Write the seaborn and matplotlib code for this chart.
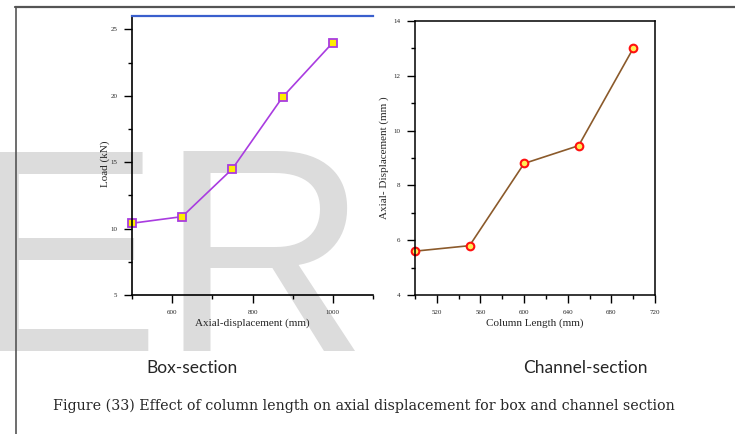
import matplotlib
matplotlib.use("Agg")
import matplotlib.pyplot as plt
from matplotlib.lines import Line2D
from matplotlib.ticker import MultipleLocator
import seaborn as sns
import pandas as pd

# Data
box_length = [500, 625, 750, 875, 1000]
box_load = [10.4, 10.9, 14.5, 19.9, 24.0]
ch_length = [500, 550, 600, 650, 700]
ch_disp = [5.6, 5.8, 8.8, 9.45, 13.0]

box_xticks = [600, 800, 1000]
box_yticks = [5, 10, 15, 20, 25]
ch_xticks = [520, 560, 600, 640, 680, 720]
ch_yticks = [4, 6, 8, 10, 12, 14]

sns.set_style("ticks")
plt.rcParams['font.family'] = ['Liberation Serif', 'DejaVu Serif']

fig = plt.figure(figsize=(7.35, 4.34), dpi=100)
fig.patch.set_facecolor('white')

# watermark
fig.text(-33 / 735, 1 - 351 / 434, "ER", fontsize=208, family='Liberation Sans',
         color='#dcdcdc', ha='left', va='baseline', zorder=-5)

# frame lines
fig.add_artist(Line2D([15 / 735, 1.0], [1 - 7 / 434, 1 - 7 / 434],
                      transform=fig.transFigure, color='#555555', lw=1.6))
fig.add_artist(Line2D([16 / 735, 16 / 735], [1 - 7 / 434, 0.0],
                      transform=fig.transFigure, color='#555555', lw=1.2))

ax1 = fig.add_axes([132 / 735, 1 - 295 / 434, 241 / 735, 279 / 434])
ax2 = fig.add_axes([415 / 735, 1 - 295 / 434, 240 / 735, 274 / 434])
for ax in (ax1, ax2):
    ax.set_facecolor('none')

df1 = pd.DataFrame({'x': box_length, 'y': box_load})
df2 = pd.DataFrame({'x': ch_length, 'y': ch_disp})

sns.lineplot(data=df1, x='x', y='y', ax=ax1, color='#a93ce0', lw=1.2,
             marker='s', markersize=5.5, markerfacecolor='#ffee00',
             markeredgecolor='#a93ce0', markeredgewidth=1.3, clip_on=False)
sns.lineplot(data=df2, x='x', y='y', ax=ax2, color='#8b5a2b', lw=1.2,
             marker='o', markersize=5.5, markerfacecolor='#ffee55',
             markeredgecolor='#ff1010', markeredgewidth=1.5, clip_on=False)

# Left axes styling
ax1.set_xlim(500, 1100)
ax1.set_ylim(5, 26)
ax1.set_xticks(box_xticks)
ax1.set_yticks(box_yticks)
ax1.xaxis.set_minor_locator(MultipleLocator(100))
ax1.yaxis.set_minor_locator(MultipleLocator(2.5))
ax1.spines['right'].set_visible(False)
ax1.spines['top'].set_color('#3a5fcd')
ax1.spines['top'].set_linewidth(1.6)
for s in ('left', 'bottom'):
    ax1.spines[s].set_color('black')
    ax1.spines[s].set_linewidth(1.2)
ax1.set_xlabel('Axial-displacement (mm)', fontsize=8, labelpad=3)
ax1.set_ylabel('Load (kN)', fontsize=8, labelpad=4)
ax1.yaxis.set_label_coords(-0.09, 0.47)

# Right axes styling
ax2.set_xlim(500, 720)
ax2.set_ylim(4, 14)
ax2.set_xticks(ch_xticks)
ax2.set_yticks(ch_yticks)
ax2.xaxis.set_minor_locator(MultipleLocator(20))
ax2.yaxis.set_minor_locator(MultipleLocator(1))
for s in ax2.spines.values():
    s.set_color('black')
    s.set_linewidth(1.1)
ax2.set_xlabel('Column Length (mm)', fontsize=8, labelpad=3)
ax2.set_ylabel('Axial- Displacement (mm )', fontsize=8, labelpad=3)

for ax in (ax1, ax2):
    ax.tick_params(which='major', direction='out', length=6, width=1.0,
                   labelsize=5, pad=4.5, color='black')
    ax.tick_params(which='minor', direction='out', length=3, width=1.0,
                   color='black')
    ax.tick_params(top=False, right=False, which='both')

# Section labels and caption
fig.text(192 / 735, 1 - 368 / 434, 'Box-section', fontsize=12.5, family='Lato',
         ha='center', va='center')
fig.text(585 / 735, 1 - 368 / 434, 'Channel-section', fontsize=12.5, family='Lato',
         ha='center', va='center')
fig.text(364 / 735, 1 - 406 / 434,
         'Figure (33) Effect of column length on axial displacement for box and channel section',
         fontsize=10.3, family='DejaVu Serif', ha='center', va='center')

fig.savefig('out.png', dpi=100, facecolor='white')
